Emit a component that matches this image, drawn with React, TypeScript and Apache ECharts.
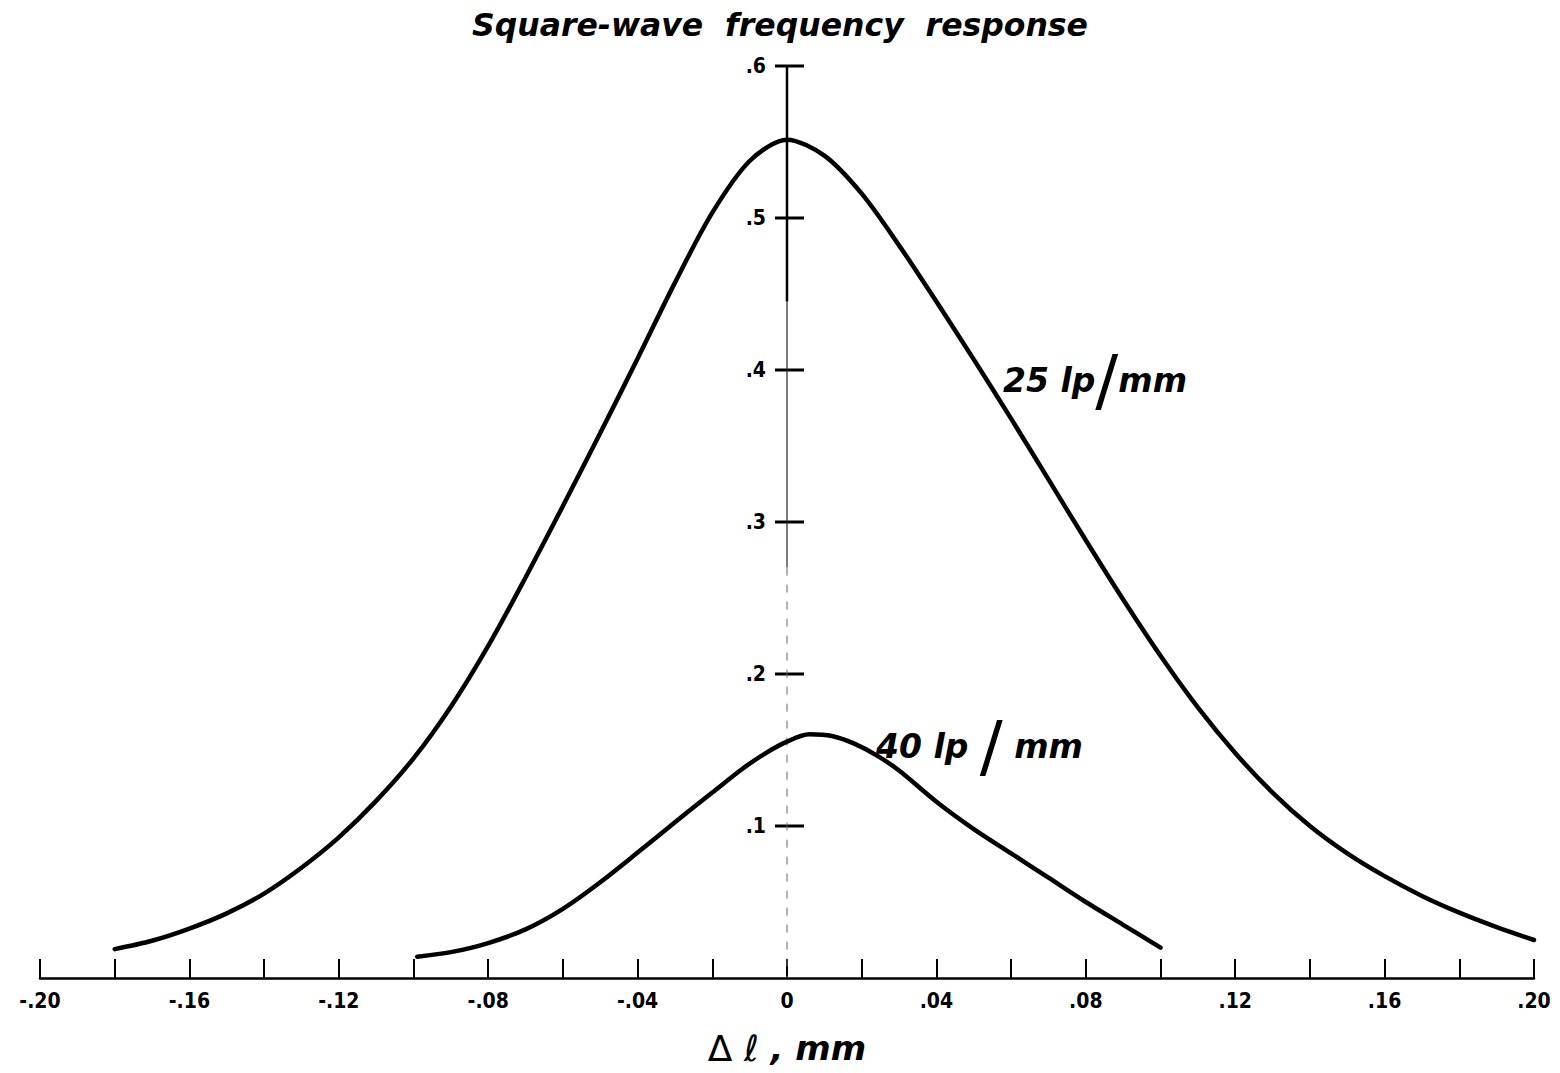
import React, { useEffect, useRef } from "react";
import * as echarts from "echarts";

// ---- data ----
const x25 = [-0.18, -0.17, -0.16, -0.15, -0.14, -0.13, -0.12, -0.11, -0.1, -0.09, -0.08, -0.07, -0.06, -0.05, -0.04, -0.03, -0.02, -0.01, 0, 0.01, 0.02, 0.03, 0.04, 0.05, 0.06, 0.07, 0.08, 0.09, 0.1, 0.11, 0.12, 0.13, 0.14, 0.15, 0.16, 0.17, 0.18, 0.19, 0.2];
const y25 = [0.019, 0.0245, 0.0325, 0.0425, 0.0555, 0.0725, 0.0925, 0.1165, 0.1445, 0.1785, 0.2185, 0.2635, 0.3105, 0.3585, 0.4075, 0.4575, 0.5035, 0.5375, 0.5515, 0.541, 0.516, 0.482, 0.445, 0.407, 0.368, 0.328, 0.288, 0.249, 0.212, 0.178, 0.148, 0.122, 0.1, 0.082, 0.067, 0.054, 0.043, 0.0335, 0.025];

const x40 = [-0.099, -0.09, -0.08, -0.07, -0.06, -0.05, -0.04, -0.03, -0.02, -0.012, -0.006, 0, 0.006, 0.012, 0.018, 0.024, 0.03, 0.04, 0.05, 0.06, 0.07, 0.08, 0.09, 0.1];
const y40 = [0.014, 0.017, 0.023, 0.032, 0.0455, 0.063, 0.0825, 0.1025, 0.122, 0.1375, 0.1475, 0.1555, 0.1603, 0.1592, 0.1542, 0.1465, 0.1365, 0.116, 0.098, 0.082, 0.066, 0.05, 0.035, 0.02];

const xLabelValues = [-0.2, -0.16, -0.12, -0.08, -0.04, 0, 0.04, 0.08, 0.12, 0.16, 0.2];
const xLabelTexts = ["-.20", "-.16", "-.12", "-.08", "-.04", "0", ".04", ".08", ".12", ".16", ".20"];
const yTickValues = [0.1, 0.2, 0.3, 0.4, 0.5, 0.6];
const yTickTexts = [".1", ".2", ".3", ".4", ".5", ".6"];

const titleText = "Square-wave  frequency  response";
const label25 = "25 lp/mm";
const label40 = "40 lp / mm";

// y-axis line segments (value ranges along x = 0)
const axisSolidRange = [0.6, 0.445];
const axisThinRange = [0.445, 0.27];
const axisDashRange = [0.27, 0];

const pair = (xs: number[], ys: number[]) => xs.map((x, i) => [x, ys[i]]);

const narrow = "'Liberation Sans Narrow', 'DejaVu Sans Condensed', 'DejaVu Sans', sans-serif";
const dv = "'DejaVu Sans', sans-serif";

export default function App() {
  const ref = useRef<HTMLDivElement>(null);
  useEffect(() => {
    if (!ref.current) return;
    const chart = echarts.init(ref.current, null, { renderer: "svg" });
    const xLabelMap: Record<number, string> = {};
    xLabelValues.forEach((v, i) => (xLabelMap[Math.round(v * 100)] = xLabelTexts[i]));

    const split = (s: string) => {
      const idx = s.indexOf("/");
      return `{a|${s.slice(0, idx)}}{s|/}{a|${s.slice(idx + 1)}}`;
    };
    const labelRich = {
      a: { fontSize: 33, fontWeight: "bold", fontStyle: "italic", fontFamily: dv, fill: "#000" },
      s: { fontSize: 68, fontWeight: "normal", fontStyle: "normal", fontFamily: dv, fill: "#000" },
    };

    chart.setOption({
      animation: false,
      backgroundColor: "#fff",
      title: {
        text: titleText,
        left: "center",
        top: 4,
        textStyle: { fontSize: 31.5, fontWeight: "bold", fontStyle: "italic", fontFamily: dv, color: "#000" },
      },
      grid: { left: 40, top: 66, width: 1494, height: 912, containLabel: false },
      xAxis: {
        type: "value",
        min: -0.2,
        max: 0.2,
        interval: 0.02,
        axisLine: { onZero: false, lineStyle: { color: "#000", width: 2.5 } },
        axisTick: { inside: true, length: 19, lineStyle: { color: "#000", width: 2 } },
        splitLine: { show: false },
        axisLabel: {
          margin: 12,
          fontSize: 21,
          fontWeight: "bold",
          fontFamily: narrow,
          color: "#000",
          showMinLabel: true,
          showMaxLabel: true,
          formatter: (v: number) => xLabelMap[Math.round(v * 100)] ?? "",
        },
        name: "{d|Δ}{l| ℓ}{m| , mm}",
        nameLocation: "middle",
        nameGap: 52,
        nameTextStyle: {
          rich: {
            d: { fontSize: 36, fontFamily: dv, fontWeight: "normal", color: "#000" },
            l: { fontSize: 36, fontFamily: dv, fontStyle: "italic", color: "#000" },
            m: { fontSize: 34, fontFamily: dv, fontWeight: "bold", fontStyle: "italic", color: "#000" },
          },
        },
      },
      yAxis: {
        type: "value",
        min: 0,
        max: 0.6,
        interval: 0.1,
        axisLine: { show: false },
        axisTick: { show: false },
        splitLine: { show: false },
        axisLabel: { show: false },
      },
      series: [
        {
          type: "line",
          data: [[0, axisSolidRange[0]], [0, axisSolidRange[1]]],
          showSymbol: false,
          silent: true,
          lineStyle: { color: "#000", width: 2.5 },
        },
        {
          type: "line",
          data: [[0, axisThinRange[0]], [0, axisThinRange[1]]],
          showSymbol: false,
          silent: true,
          lineStyle: { color: "#222", width: 1.2 },
        },
        {
          type: "line",
          data: [[0, axisDashRange[0]], [0, axisDashRange[1]]],
          showSymbol: false,
          silent: true,
          lineStyle: { color: "#666", width: 1, type: [8, 9] },
        },
        {
          type: "scatter",
          data: yTickValues.map((v, i) => ({ value: [0, v], name: yTickTexts[i] })),
          symbol: "rect",
          symbolSize: [29, 3],
          symbolOffset: [2.5, 0],
          silent: true,
          itemStyle: { color: "#000", opacity: 1 },
          label: {
            show: true,
            position: "left",
            distance: 9,
            formatter: (p: any) => p.name,
            fontSize: 21,
            fontWeight: "bold",
            fontFamily: narrow,
            color: "#000",
          },
        },
        {
          name: "25 lp/mm",
          type: "line",
          data: pair(x25, y25),
          smooth: 0.3,
          showSymbol: false,
          lineStyle: { color: "#000", width: 4.5, cap: "round" },
        },
        {
          name: "40 lp/mm",
          type: "line",
          data: pair(x40, y40),
          smooth: 0.3,
          showSymbol: false,
          lineStyle: { color: "#000", width: 4.5, cap: "round" },
        },
      ],
      graphic: [
        {
          type: "text",
          left: 1003,
          top: 346,
          style: { text: split(label25), rich: labelRich },
        },
        {
          type: "text",
          left: 876,
          top: 712,
          style: { text: split(label40), rich: labelRich },
        },
      ],
    });
    return () => chart.dispose();
  }, []);
  return (
    <div
      ref={ref}
      style={{ position: "fixed", left: 0, top: 0, width: 1560, height: 1073, background: "#fff" }}
    />
  );
}
